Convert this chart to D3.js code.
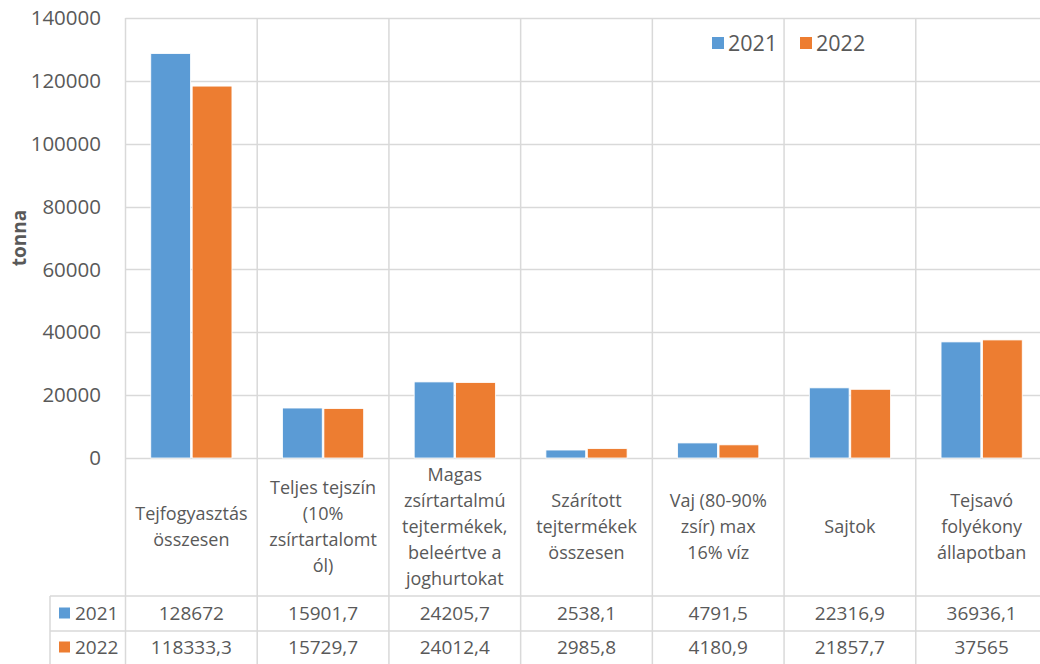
<!DOCTYPE html>
<html>
<head>
<meta charset="utf-8">
<script src="https://cdn.jsdelivr.net/npm/d3@7"></script>
<style>
  body { margin: 0; background: #fff; overflow: hidden; }
  text { font-family: "Open Sans", "Liberation Sans", sans-serif; fill: #595959; }
</style>
</head>
<body>
<svg id="main-svg" width="1040" height="664"></svg>
<script>
'use strict';

// data
const categories = [
    ['Tejfogyasztás', 'összesen'],
    ['Teljes tejszín', '(10%', 'zsírtartalomt', 'ól)'],
    ['Magas', 'zsírtartalmú', 'tejtermékek,', 'beleértve a', 'joghurtokat'],
    ['Szárított', 'tejtermékek', 'összesen'],
    ['Vaj (80-90%', 'zsír) max', '16% víz'],
    ['Sajtok'],
    ['Tejsavó', 'folyékony', 'állapotban'],
];
const series_names = ['2021', '2022'];
const values_2021 = [128672, 15901.7, 24205.7, 2538.1, 4791.5, 22316.9, 36936.1];
const values_2022 = [118333.3, 15729.7, 24012.4, 2985.8, 4180.9, 21857.7, 37565];
const y_ticks = [0, 20000, 40000, 60000, 80000, 100000, 120000, 140000];

const colors = {'2021': '#5b9bd5', '2022': '#ed7d31'};
const grid = '#d9d9d9';

const svg = d3.select('#main-svg');

const plot = {left: 125.5, right: 1047.5, top: 18, bottom: 458};
const table = {head_bottom: 596, row1_bottom: 631, bottom: 668, legend_left: 50};

const x = d3.scaleBand()
    .domain(d3.range(categories.length))
    .range([plot.left, plot.right])
    .paddingInner(0)
    .paddingOuter(0);

const x_inner = d3.scaleBand()
    .domain(series_names)
    .range([0, x.bandwidth()])
    .paddingInner(0.04)
    .paddingOuter(0.61);

const y = d3.scaleLinear()
    .domain([0, 140000])
    .range([plot.bottom, plot.top]);

// horizontal gridlines
svg.append('g').selectAll('line')
    .data(y_ticks)
    .enter().append('line')
    .attr('x1', plot.left).attr('x2', plot.right)
    .attr('y1', d => Math.round(y(d)) + 0.5)
    .attr('y2', d => Math.round(y(d)) + 0.5)
    .attr('stroke', grid).attr('stroke-width', 1.5);

// vertical lines through plot and table
const bounds = d3.range(categories.length + 1).map(i => plot.left + i * x.bandwidth());
svg.append('g').selectAll('line')
    .data(bounds)
    .enter().append('line')
    .attr('x1', d => d).attr('x2', d => d)
    .attr('y1', plot.top).attr('y2', table.bottom)
    .attr('stroke', grid).attr('stroke-width', 1.5);

// table row lines
[table.head_bottom, table.row1_bottom].forEach(yy => {
    svg.append('line')
        .attr('x1', table.legend_left).attr('x2', plot.right)
        .attr('y1', yy).attr('y2', yy)
        .attr('stroke', grid).attr('stroke-width', 1.5);
});
svg.append('line')
    .attr('x1', table.legend_left).attr('x2', table.legend_left)
    .attr('y1', table.head_bottom).attr('y2', table.bottom)
    .attr('stroke', grid).attr('stroke-width', 1.5);

// y tick labels
svg.append('g').selectAll('text')
    .data(y_ticks)
    .enter().append('text')
    .attr('x', 101)
    .attr('y', d => y(d))
    .attr('dy', '0.35em')
    .attr('text-anchor', 'end')
    .style('font-size', '20.5px')
    .text(d => d);

// axis title
svg.append('text')
    .attr('transform', `translate(26, ${(plot.top + plot.bottom) / 2}) rotate(-90)`)
    .attr('text-anchor', 'middle')
    .style('font-size', '19px')
    .style('font-weight', 'bold')
    .text('tonna');

// bars
const data = series_names.flatMap(s => {
    const vals = s === '2021' ? values_2021 : values_2022;
    return vals.map((v, i) => ({s: s, i: i, v: v}));
});
svg.append('g').selectAll('rect')
    .data(data)
    .enter().append('rect')
    .attr('x', d => x(d.i) + x_inner(d.s))
    .attr('y', d => y(d.v))
    .attr('width', x_inner.bandwidth())
    .attr('height', d => plot.bottom - y(d.v))
    .attr('fill', d => colors[d.s])
    .attr('stroke', '#fff')
    .attr('stroke-width', 0.8);

// category labels in header row
const line_h = 26;
const head_mid = (plot.bottom + table.head_bottom) / 2;
categories.forEach((lines, i) => {
    const t = svg.append('text')
        .attr('text-anchor', 'middle')
        .style('font-size', '18px');
    lines.forEach((ln, j) => {
        t.append('tspan')
            .attr('x', x(i) + x.bandwidth() / 2)
            .attr('y', head_mid + (j - (lines.length - 1) / 2) * line_h)
            .attr('dy', '0.35em')
            .text(ln);
    });
});

// table values
const fmt = v => String(v).replace('.', ',');
const row_mid = [(table.head_bottom + table.row1_bottom) / 2, (table.row1_bottom + 664) / 2];
series_names.forEach((s, r) => {
    const vals = s === '2021' ? values_2021 : values_2022;
    svg.append('g').selectAll('text')
        .data(vals)
        .enter().append('text')
        .attr('x', (d, i) => x(i) + x.bandwidth() / 2)
        .attr('y', row_mid[r])
        .attr('dy', '0.35em')
        .attr('text-anchor', 'middle')
        .style('font-size', '19px')
        .text(d => fmt(d));

    // legend key in table
    svg.append('rect')
        .attr('x', 59).attr('y', row_mid[r] - 6)
        .attr('width', 11).attr('height', 11)
        .attr('fill', colors[s]);
    svg.append('text')
        .attr('x', 75).attr('y', row_mid[r])
        .attr('dy', '0.35em')
        .style('font-size', '19px')
        .text(s);
});

// top legend
const legend_x = [712, 800];
series_names.forEach((s, k) => {
    svg.append('rect')
        .attr('x', legend_x[k]).attr('y', 37)
        .attr('width', 12).attr('height', 12)
        .attr('fill', colors[s]);
    svg.append('text')
        .attr('x', legend_x[k] + 16).attr('y', 43)
        .attr('dy', '0.35em')
        .style('font-size', '21.5px')
        .text(s);
});
</script>
</body>
</html>
